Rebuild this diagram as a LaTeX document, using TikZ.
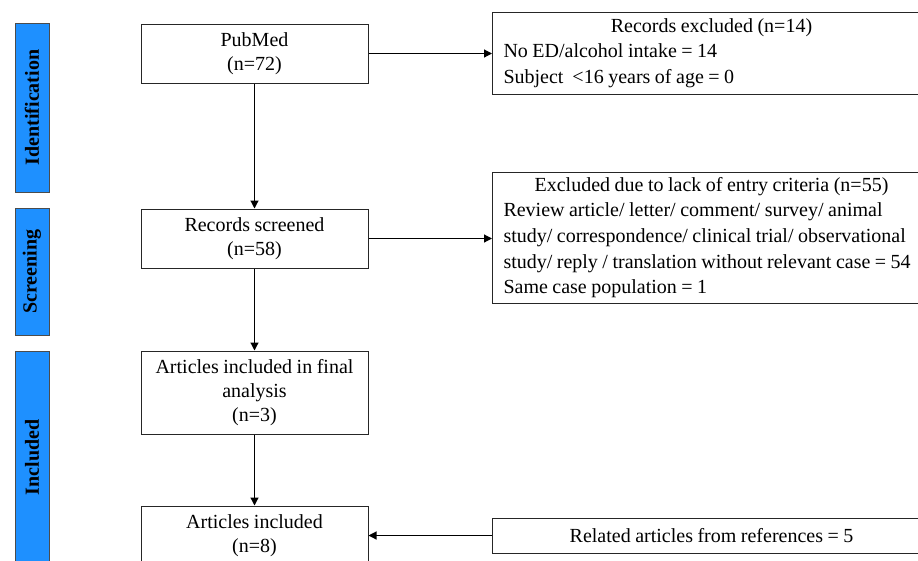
\documentclass[tikz,border=0pt]{standalone}
\usepackage{fontspec}
\setmainfont{Liberation Serif}[WordSpace=0.9]
\usetikzlibrary{arrows.meta}
\definecolor{barblue}{RGB}{30,144,255}
\begin{document}
\begin{tikzpicture}[x=1pt,y=-1pt,
  box/.style={draw=black!85, line width=1pt, fill=white, minimum width=227pt,
    align=center, inner sep=0pt, font=\fontsize{20}{24}\selectfont},
  bar/.style={draw=black!70, line width=1pt, fill=barblue, minimum height=34pt,
    inner sep=0pt, rotate=90, font=\bfseries\fontsize{20}{24}\selectfont},
  rbox/.style={draw=black!85, line width=1pt, fill=white, minimum width=438pt,
    text width=416pt, align=flush left, inner sep=0pt, anchor=west,
    font=\fontsize{20}{25.7}\selectfont},
  arr/.style={-{Triangle[length=8pt,width=8pt]}, line width=1.2pt}]
\useasboundingbox (0,0) rectangle (918,560);

% stage bars
\node[bar, minimum width=169pt] (idb) at (32,107.5) {Identification};
\node[bar, minimum width=127pt] (scb) at (32,271.5) {Screening};
\node[bar, minimum width=213pt] (inb) at (32,457.5) {Included};

% main column
\node[box, minimum height=59pt] (pub) at (254.5,53.5) {PubMed\\(n=72)};
\node[box, minimum height=59pt] (rs) at (254.5,238.5) {Records screened\\(n=58)};
\node[box, minimum height=83pt] (fa) at (254.5,392.5) {Articles included in final\\analysis\\(n=3)};
\node[box, minimum height=59pt] (ai) at (254.5,535.5) {Articles included\\(n=8)};

% side boxes
\node[rbox, minimum height=82pt] (ex1) at (492,53) {{\centering Records excluded (n=14)\par}No ED/alcohol intake = 14\\Subject \ <16 years of age = 0};
\node[rbox, minimum height=131pt] (ex2) at (492,237.5) {{\centering Excluded due to lack of entry criteria (n=55)\par}Review article/ letter/ comment/ survey/ animal\\study/ correspondence/ clinical trial/ observational\\study/ reply / translation without relevant case = 54\\Same case population = 1};
\node[rbox, minimum height=35pt, align=flush center] (rel) at (492,535.5) {Related articles from references = 5};

% connectors
\draw[arr] (pub.south) -- (rs.north);
\draw[arr] (rs.south) -- (fa.north);
\draw[arr] (fa.south) -- (ai.north);
\draw[arr] (pub.east) -- (pub.east -| ex1.west);
\draw[arr] (rs.east) -- (rs.east -| ex2.west);
\draw[arr] (rel.west) -- (rel.west -| ai.east);
\end{tikzpicture}
\end{document}
